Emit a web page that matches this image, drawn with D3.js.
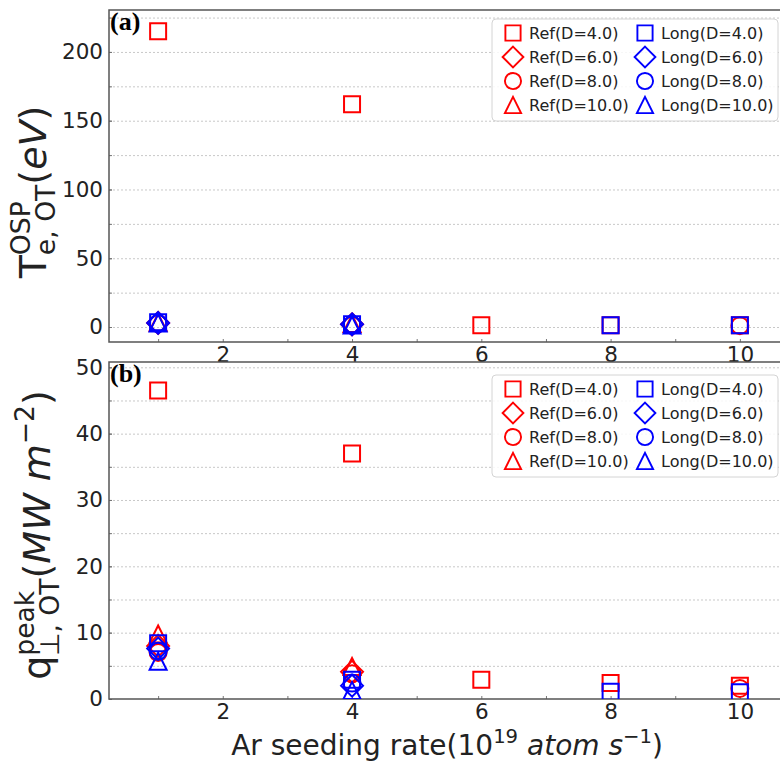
<!DOCTYPE html>
<meta charset="utf-8">
<style>
body { margin: 0; background: #fff; }
text { font-family: "DejaVu Sans", sans-serif; fill: #222; }
.grid line { stroke: #c8c8c8; stroke-dasharray: 2,2; stroke-width: 1; }
.grid .domain { display: none; }
.spine { stroke: #555; stroke-width: 1.5; fill: none; }
.tick-in line { stroke: #777; }
.tick-in .domain { display: none; }
.panel-tag { font-family: "Liberation Serif", serif; font-weight: bold; fill: #000; }
</style>
<body>
<script src="https://cdn.jsdelivr.net/npm/d3@7"></script>
<script>

// Ar seeding rate (1e19 atom/s)
var rate = [1, 4, 6, 8, 10];
var rateTicks = [2, 4, 6, 8, 10];
var rateMinor = [1, 3, 5, 7, 9];

var names = ["Ref(D=4.0)", "Ref(D=6.0)", "Ref(D=8.0)", "Ref(D=10.0)",
             "Long(D=4.0)", "Long(D=6.0)", "Long(D=8.0)", "Long(D=10.0)"];

// panel (a): T_e at OSP, eV
var teRef4   = [215, 162, 1.2, 1.2, 1.2];
var teRef6   = [3.0, 2.0, null, null, null];
var teRef8   = [2.5, 1.5, null, null, 1.0];
var teRef10  = [3.5, 2.5, null, null, null];
var teLong4  = [3.5, 2.0, null, 1.2, 1.2];
var teLong6  = [3.0, 2.0, null, null, null];
var teLong8  = [2.5, 1.5, null, null, null];
var teLong10 = [3.0, 1.5, null, null, null];
var teTicks = [0, 50, 100, 150, 200];
var teGrid = [0, 25, 50, 75, 100, 125, 150, 175, 200, 225];

// panel (b): peak perpendicular heat flux, MW m^-2
var qRef4   = [46.5, 37.0, 2.9, 2.4, 2.0];
var qRef6   = [8.0, 4.1, null, null, null];
var qRef8   = [7.0, 3.8, null, null, 1.6];
var qRef10  = [9.8, 4.9, null, null, null];
var qLong4  = [8.4, 2.9, null, 1.1, 1.0];
var qLong6  = [7.6, 2.0, null, null, null];
var qLong8  = [7.2, 2.4, null, null, null];
var qLong10 = [5.7, 1.3, null, null, null];
var qTicks = [0, 10, 20, 30, 40, 50];
var qGrid = [5, 10, 15, 20, 25, 30, 35, 40, 45, 50];

// styles
var colors = ["#ff0000", "#ff0000", "#ff0000", "#ff0000", "#0000ff", "#0000ff", "#0000ff", "#0000ff"];

var mplDiamond = {
  draw: function(ctx, size) {
    var r = Math.sqrt(size) / 2 * Math.SQRT2;
    ctx.moveTo(0, -r); ctx.lineTo(r, 0); ctx.lineTo(0, r); ctx.lineTo(-r, 0); ctx.closePath();
  }
};
var mplTriangle = {
  draw: function(ctx, size) {
    var h = Math.sqrt(size) / 2;
    ctx.moveTo(0, -h); ctx.lineTo(h, h); ctx.lineTo(-h, h); ctx.closePath();
  }
};
var shapes = [d3.symbolSquare, mplDiamond, d3.symbolCircle, mplTriangle];
var shapeSize = [256, 240, 227, 289];
function markerPath(i) {
  return d3.symbol().type(shapes[i % 4]).size(shapeSize[i % 4])();
}

var svg = d3.select("body").append("svg")
    .attr("width", 780)
    .attr("height", 761);

var left = 109, right = 789;

var x = d3.scaleLinear()
    .domain([0.24, 10.76])
    .range([left, right]);

var panels = [
  { tag: "(a)", top: 10, bottom: 342, domain: [-10.9, 230.5], ticks: teTicks, grid: teGrid,
    series: [teRef4, teRef6, teRef8, teRef10, teLong4, teLong6, teLong8, teLong10], legendTop: 19 },
  { tag: "(b)", top: 362, bottom: 699, domain: [0, 50.8], ticks: qTicks, grid: qGrid,
    series: [qRef4, qRef6, qRef8, qRef10, qLong4, qLong6, qLong8, qLong10], legendTop: 375 }
];

panels.forEach(function(p, pi) {
  var y = d3.scaleLinear().domain(p.domain).range([p.bottom, p.top]);
  var g = svg.append("g");

  svg.append("clipPath").attr("id", "clip" + pi)
    .append("rect")
      .attr("x", left).attr("y", p.top)
      .attr("width", right - left).attr("height", p.bottom - p.top);

  g.append("g")
      .attr("class", "grid")
      .attr("transform", "translate(" + left + ",0)")
      .call(d3.axisLeft(y).tickValues(p.grid).tickSize(-(right - left)).tickFormat(""));

  // inward minor/major ticks
  g.append("g")
      .attr("class", "tick-in")
      .attr("transform", "translate(" + left + ",0)")
      .call(d3.axisRight(y).tickValues(p.grid.concat(p.ticks)).tickSize(3).tickFormat(""));
  g.append("g")
      .attr("class", "tick-in")
      .attr("transform", "translate(0," + p.bottom + ")")
      .call(d3.axisTop(x).tickValues(rateTicks.concat(rateMinor)).tickSize(3).tickFormat(""));

  var yl = g.append("g")
      .attr("transform", "translate(" + left + ",0)")
      .call(d3.axisLeft(y).tickValues(p.ticks).tickSize(0).tickPadding(6));
  yl.select(".domain").remove();
  yl.selectAll("text").style("font-size", "21.5px").style("fill", "#222");

  var xl = g.append("g")
      .attr("transform", "translate(0," + p.bottom + ")")
      .call(d3.axisBottom(x).tickValues(rateTicks).tickSize(0).tickPadding(5));
  xl.select(".domain").remove();
  xl.selectAll("text").style("font-size", "21.5px").style("fill", "#222");

  // spines: left, top, bottom
  g.append("path")
      .attr("class", "spine")
      .attr("d", d3.line()([[right, p.top], [left, p.top], [left, p.bottom], [right, p.bottom]]));

  var pts = g.append("g").attr("clip-path", "url(#clip" + pi + ")");
  p.series.forEach(function(vals, si) {
    var data = rate.map(function(r, k) { return [r, vals[k]]; })
        .filter(function(d) { return d[1] != null; });
    pts.selectAll(null)
      .data(data)
      .enter().append("path")
        .attr("transform", function(d) { return "translate(" + x(d[0]) + "," + y(d[1]) + ")"; })
        .attr("d", markerPath(si))
        .attr("fill", "none")
        .attr("stroke", colors[si])
        .attr("stroke-width", 2);
  });

  g.append("text")
      .attr("class", "panel-tag")
      .attr("x", 110)
      .attr("y", p.top + 20)
      .style("font-size", "26px")
      .text(p.tag);

  // legend
  var lg = g.append("g");
  lg.append("rect")
      .attr("x", 492).attr("y", p.legendTop)
      .attr("width", 286).attr("height", 102)
      .attr("rx", 4)
      .attr("fill", "#fff").attr("fill-opacity", 0.85)
      .attr("stroke", "#d4d4d4");
  names.forEach(function(n, i) {
    var col = Math.floor(i / 4), row = i % 4;
    var cy = p.legendTop + 14 + row * 24;
    var mx = col ? 645 : 513;
    lg.append("path")
        .attr("transform", "translate(" + mx + "," + cy + ") scale(0.95)")
        .attr("d", markerPath(i))
        .attr("fill", "none")
        .attr("stroke", colors[i])
        .attr("stroke-width", 2);
    lg.append("text")
        .attr("x", mx + 16)
        .attr("y", cy)
        .attr("dy", "0.36em")
        .style("font-size", "16px")
        .text(n);
  });
});

// math-like labels built from runs
function mathLabel(parent, runs) {
  var g = parent.append("g");
  var pos = 0, held = 0;
  runs.forEach(function(r) {
    var t = g.append("text")
        .attr("x", pos)
        .attr("y", r.dy || 0)
        .style("font-size", r.size + "px")
        .style("font-style", r.italic ? "italic" : null)
        .style("white-space", "pre")
        .text(r.t);
    var w = t.node().getComputedTextLength();
    if (r.hold) { held = w; }
    else { pos += Math.max(w, held); held = 0; }
  });
  g.selectAll("text").attr("x", function() { return +d3.select(this).attr("x") - pos / 2; });
  return g;
}

var S = 38, s = S * 0.7;
mathLabel(svg.append("g").attr("transform", "translate(46,192) rotate(-90)"), [
  { t: "T", size: S },
  { t: "OSP", size: s, dy: -0.42 * S, hold: true },
  { t: "e, OT", size: s, dy: 0.24 * S },
  { t: "(", size: S },
  { t: "eV", size: S, italic: true },
  { t: ")", size: S }
]);

mathLabel(svg.append("g").attr("transform", "translate(50,535) rotate(-90)"), [
  { t: "q", size: S },
  { t: "peak", size: s, dy: -0.42 * S, hold: true },
  { t: "\u22a5, OT", size: s, dy: 0.24 * S },
  { t: "(", size: S },
  { t: "MW m", size: S, italic: true },
  { t: "\u22122", size: s, dy: -0.42 * S },
  { t: ")", size: S }
]);

var X = 28, xs = X * 0.7;
mathLabel(svg.append("g").attr("transform", "translate(447,755)"), [
  { t: "Ar seeding rate(10", size: X },
  { t: "19", size: xs, dy: -0.42 * X },
  { t: " ", size: X },
  { t: "atom s", size: X, italic: true },
  { t: "\u22121", size: xs, dy: -0.42 * X },
  { t: ")", size: X }
]);

</script>
</body>
